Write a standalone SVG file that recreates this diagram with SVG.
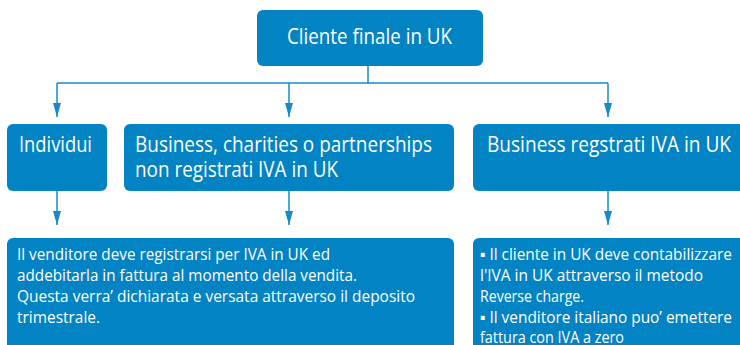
<svg xmlns="http://www.w3.org/2000/svg" width="740" height="345" viewBox="0 0 740 345">
<style>
.box{fill:#0283c4}
.t{fill:#ffffff;font-family:"Open Sans","Noto Sans",sans-serif}
.h{font-size:21px}
.b{font-size:16.5px}
.c{fill:none;stroke:#1b88c6;stroke-width:1.5}
</style>
<defs>
<marker id="ah" viewBox="0 0 14 8" refX="14" refY="4" markerWidth="14" markerHeight="8" markerUnits="userSpaceOnUse" orient="auto">
<path d="M0,0 L14,4 L0,8 Z" fill="#1b88c6"/>
</marker>
</defs>
<rect width="740" height="345" fill="#ffffff"/>
<g id="connectors">
<path class="c" d="M368,66 V83"/>
<path class="c" d="M57,83 H608"/>
<path class="c" d="M57,83 V117" marker-end="url(#ah)"/>
<path class="c" d="M289,83 V117" marker-end="url(#ah)"/>
<path class="c" d="M608,83 V117" marker-end="url(#ah)"/>
<path class="c" d="M57,191 V225" marker-end="url(#ah)"/>
<path class="c" d="M289,191 V225" marker-end="url(#ah)"/>
<path class="c" d="M608,191 V225" marker-end="url(#ah)"/>
</g>
<g id="node-cliente">
<rect class="box" x="257" y="10" width="226" height="56" rx="6"/>
<text class="t h" x="287" y="44" textLength="165" lengthAdjust="spacingAndGlyphs">Cliente finale in UK</text>
</g>
<g id="node-individui">
<rect class="box" x="7" y="124" width="100" height="67" rx="6"/>
<text class="t h" x="19" y="152" textLength="73" lengthAdjust="spacingAndGlyphs">Individui</text>
</g>
<g id="node-business-non">
<rect class="box" x="124" y="124" width="330" height="67" rx="6"/>
<text class="t h" x="135" y="152" textLength="297" lengthAdjust="spacingAndGlyphs">Business, charities o partnerships</text>
<text class="t h" x="135" y="177" textLength="203" lengthAdjust="spacingAndGlyphs">non registrati IVA in UK</text>
</g>
<g id="node-business-reg">
<rect class="box" x="473" y="124" width="275" height="67" rx="6"/>
<text class="t h" x="487" y="152" textLength="244" lengthAdjust="spacingAndGlyphs">Business regstrati IVA in UK</text>
</g>
<g id="node-nota-sinistra">
<rect class="box" x="7" y="238" width="447" height="120" rx="6"/>
<text class="t b" x="17" y="260" textLength="313" lengthAdjust="spacingAndGlyphs">Il venditore deve registrarsi per IVA in UK ed</text>
<text class="t b" x="17" y="281" textLength="340" lengthAdjust="spacingAndGlyphs">addebitarla in fattura al momento della vendita.</text>
<text class="t b" x="17" y="302" textLength="398" lengthAdjust="spacingAndGlyphs">Questa verra’ dichiarata e versata attraverso il deposito</text>
<text class="t b" x="17" y="323" textLength="83" lengthAdjust="spacingAndGlyphs">trimestrale.</text>
</g>
<g id="node-nota-destra">
<rect class="box" x="473" y="238" width="275" height="120" rx="6"/>
<text class="t b" x="480" y="260" textLength="252" lengthAdjust="spacingAndGlyphs">▪ Il cliente in UK deve contabilizzare</text>
<text class="t b" x="480" y="281" textLength="223" lengthAdjust="spacingAndGlyphs">l'IVA in UK attraverso il metodo</text>
<text class="t b" x="480" y="302" textLength="104" lengthAdjust="spacingAndGlyphs">Reverse charge.</text>
<text class="t b" x="480" y="323" textLength="252" lengthAdjust="spacingAndGlyphs">▪ Il venditore italiano puo’ emettere</text>
<text class="t b" x="480" y="343" textLength="144" lengthAdjust="spacingAndGlyphs">fattura con IVA a zero</text>
</g>
</svg>
